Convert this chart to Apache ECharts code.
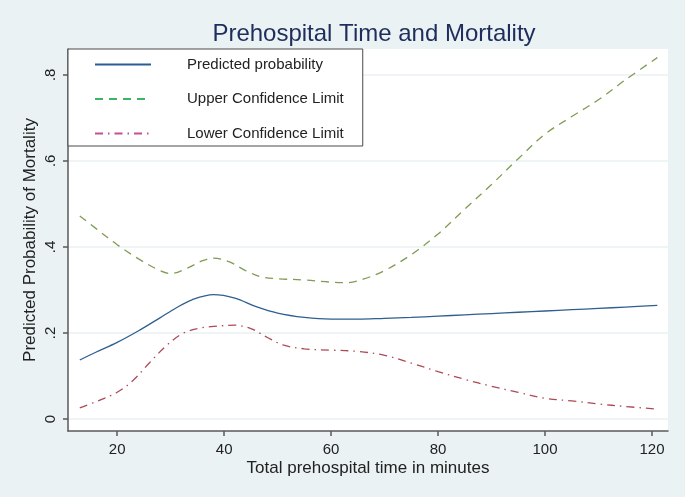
<!DOCTYPE html>
<html>
<head>
<meta charset="utf-8">
<script src="https://cdn.jsdelivr.net/npm/echarts@6/dist/echarts.min.js"></script>
<style>
html,body{margin:0;padding:0;background:#eaf2f3;}
#chart{width:685px;height:497px;}
</style>
</head>
<body>
<div id="chart"></div>
<script>
// ---- data ----
const titleText = "Prehospital Time and Mortality";
const xAxisTitle = "Total prehospital time in minutes";
const yAxisTitle = "Predicted Probability of Mortality";
const seriesNames = ["Predicted probability", "Upper Confidence Limit", "Lower Confidence Limit"];

const xTicks = [20, 40, 60, 80, 100, 120];
const yTicks = [0, 0.2, 0.4, 0.6, 0.8];

const predX = [13, 16, 20, 24, 28, 31, 34, 38, 42, 46, 50, 55, 60, 65, 70, 75, 80, 85, 90, 95, 100, 105, 110, 115, 121];
const predY = [0.137, 0.155, 0.178, 0.205, 0.235, 0.258, 0.277, 0.289, 0.281, 0.261, 0.246, 0.236, 0.232, 0.232, 0.234, 0.236, 0.239, 0.242, 0.245, 0.248, 0.251, 0.254, 0.257, 0.260, 0.264];

const upperX = [13, 16, 20, 24, 28, 30, 33, 36, 38, 41, 44, 47, 50, 55, 60, 63, 66, 70, 75, 80, 85, 90, 95, 100, 105, 110, 115, 121];
const upperY = [0.472, 0.443, 0.405, 0.372, 0.345, 0.338, 0.350, 0.368, 0.374, 0.365, 0.345, 0.330, 0.326, 0.323, 0.318, 0.317, 0.325, 0.345, 0.382, 0.430, 0.488, 0.545, 0.605, 0.662, 0.703, 0.742, 0.788, 0.840];

const lowerX = [13, 16, 20, 23, 26, 29, 32, 35, 38, 42, 45, 48, 51, 55, 60, 65, 70, 75, 80, 85, 90, 95, 100, 105, 110, 115, 121];
const lowerY = [0.026, 0.040, 0.062, 0.090, 0.130, 0.168, 0.197, 0.210, 0.215, 0.218, 0.210, 0.190, 0.172, 0.163, 0.160, 0.157, 0.148, 0.130, 0.110, 0.092, 0.076, 0.062, 0.048, 0.042, 0.035, 0.029, 0.023];

const pairs = (xs, ys) => xs.map((x, i) => [x, ys[i]]);
const fmtY = v => (v === 0 ? "0" : String(v).replace(/^0/, ""));

const chart = echarts.init(document.getElementById('chart'));
const font = "'Liberation Sans', Arial, sans-serif";

chart.setOption({
  backgroundColor: '#eaf2f3',
  animation: false,
  title: {
    text: titleText,
    left: 369, textAlign: 'center', top: 17,
    textStyle: { color: '#1e2d5c', fontSize: 24, fontWeight: 'normal', fontFamily: font }
  },
  legend: {
    orient: 'vertical',
    left: 68, top: 49,
    backgroundColor: '#ffffff',
    borderColor: '#4a4a4a', borderWidth: 1, borderRadius: 0,
    padding: [8, 19, 5, 26],
    itemWidth: 56, itemHeight: 14, itemGap: 19.5,
    itemStyle: { opacity: 0 },
    textStyle: { fontFamily: font, fontSize: 15, color: '#222', padding: [0, 0, 0, 31] },
    data: [
      { name: seriesNames[0], lineStyle: { color: '#2a5d95' }, itemStyle: { opacity: 0 } },
      { name: seriesNames[1], lineStyle: { color: '#3bb46a' }, itemStyle: { opacity: 0 } },
      { name: seriesNames[2], lineStyle: { color: '#c4508f' }, itemStyle: { opacity: 0 } }
    ]
  },
  grid: {
    left: 68, right: 17, top: 49, bottom: 66,
    show: true, backgroundColor: '#ffffff', borderWidth: 0
  },
  xAxis: {
    type: 'value', min: 10.8, max: 123,
    name: xAxisTitle, nameLocation: 'middle', nameGap: 29, nameMoveOverlap: false,
    nameTextStyle: { fontFamily: font, fontSize: 17, color: '#222' },
    axisLine: { show: true, onZero: false, lineStyle: { color: '#5a5a5a', width: 1.5 } },
    axisTick: { show: true, length: 5, customValues: xTicks, lineStyle: { color: '#5a5a5a', width: 1.5 } },
    axisLabel: { customValues: xTicks, margin: 11, fontFamily: font, fontSize: 15, color: '#222' },
    splitLine: { show: false }
  },
  yAxis: {
    type: 'value', min: -0.028, max: 0.86,
    name: yAxisTitle, nameLocation: 'middle', nameGap: 29, nameRotate: 90, nameMoveOverlap: false,
    nameTextStyle: { fontFamily: font, fontSize: 17, color: '#222' },
    axisLine: { show: true, onZero: false, lineStyle: { color: '#5a5a5a', width: 1.5 } },
    axisTick: { show: true, length: 5, customValues: yTicks, lineStyle: { color: '#5a5a5a', width: 1.5 } },
    axisLabel: { customValues: yTicks, rotate: 90, margin: 10, fontFamily: font, fontSize: 15, color: '#222', formatter: fmtY },
    splitLine: { show: true, lineStyle: { color: '#eaf2f3', width: 1.5 } }
  },
  series: [
    {
      name: seriesNames[0], type: 'line', data: pairs(predX, predY),
      smooth: 0.35, symbol: 'none',
      lineStyle: { color: '#2f5f8f', width: 1.3, type: 'solid' }, itemStyle: { color: '#2f5f8f' }
    },
    {
      name: seriesNames[1], type: 'line', data: pairs(upperX, upperY),
      smooth: 0.35, symbol: 'none',
      lineStyle: { color: '#7f9c52', width: 1.3, type: [8, 6] }, itemStyle: { color: '#7f9c52' }
    },
    {
      name: seriesNames[2], type: 'line', data: pairs(lowerX, lowerY),
      smooth: 0.35, symbol: 'none',
      lineStyle: { color: '#ad4a55', width: 1.3, type: [8, 5, 1.5, 5] }, itemStyle: { color: '#ad4a55' }
    }
  ]
});
</script>
</body>
</html>
